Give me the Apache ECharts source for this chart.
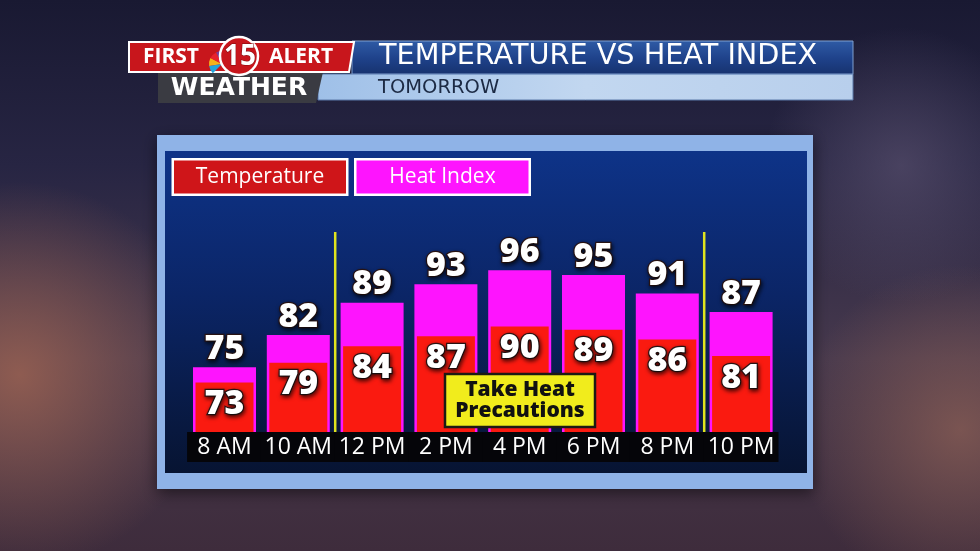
<!DOCTYPE html>
<html>
<head>
<meta charset="utf-8">
<style>
html,body{margin:0;padding:0;background:#1d1c38;}
#chart{width:980px;height:551px;}
</style>
<script src="https://cdn.jsdelivr.net/npm/echarts@6/dist/echarts.min.js"></script>
</head>
<body>
<div id="chart"></div>
<script>
// ---- data ----
const categories = ['8 AM', '10 AM', '12 PM', '2 PM', '4 PM', '6 PM', '8 PM', '10 PM'];
const heatIndex = [75, 82, 89, 93, 96, 95, 91, 87];
const temperature = [73, 79, 84, 87, 90, 89, 86, 81];
const dividerBoundaries = [2, 7];          // yellow dividers sit before these category indexes
const titleText = 'TEMPERATURE VS HEAT INDEX';
const subtitleText = 'TOMORROW';
const noteLines = ['Take Heat', 'Precautions'];

// ---- layout ----
const W = 980, H = 551;
const grid = { left: 187.6, right: 202, top: 201, bottom: 119 };
const bandW = (W - grid.left - grid.right) / categories.length;
const FONT = '"Open Sans", "Noto Sans", sans-serif';
const WIDE = '"DejaVu Sans", "Open Sans", sans-serif';

const chart = echarts.init(document.getElementById('chart'), null, { renderer: 'canvas' });

const labelCommon = {
  show: true,
  color: '#ffffff',
  fontFamily: FONT,
  fontWeight: 800,
  fontSize: 34,
  textBorderColor: '#2b1414',
  textBorderWidth: 2.5,
  textShadowColor: 'rgba(0,0,0,0.65)',
  textShadowBlur: 4,
  textShadowOffsetX: 1,
  textShadowOffsetY: 2
};

const dividerSeries = dividerBoundaries.map((b, i) => ({
  type: 'line',
  name: 'divider' + i,
  xAxisIndex: 2,
  yAxisIndex: 0,
  data: [[b, 61], [b, 104.3]],
  symbol: 'none',
  silent: true,
  z: 5,
  lineStyle: { color: '#dfe41e', width: 2.5 }
}));

const legendBox = {
  width: 172, height: 33, lineHeight: 33, align: 'center', color: '#ffffff',
  fontFamily: FONT, fontSize: 21, borderColor: '#ffffff', borderWidth: 2.5
};

const option = {
  animation: false,
  backgroundColor: {
    type: 'linear', x: 0, y: 0, x2: 0, y2: 1,
    colorStops: [
      { offset: 0, color: '#191932' },
      { offset: 0.3, color: '#272543' },
      { offset: 0.65, color: '#47394d' },
      { offset: 1, color: '#3e2c3c' }
    ]
  },
  title: [
    {
      text: titleText, left: 379, top: 40, padding: 0,
      textStyle: { color: '#ffffff', fontFamily: WIDE, fontWeight: 'normal', fontSize: 28.7, lineHeight: 34 }
    },
    {
      text: subtitleText, left: 378, top: 76, padding: 0,
      textStyle: { color: '#1c2a44', fontFamily: WIDE, fontWeight: 'normal', fontSize: 19.5, lineHeight: 23 }
    }
  ],
  legend: {
    left: 169, top: 158, padding: 0,
    itemWidth: 0, itemHeight: 0, itemGap: 3,
    selectedMode: false,
    formatter: name => (name === 'Temperature' ? '{t|' : '{h|') + name + '}',
    textStyle: {
      rich: {
        t: Object.assign({ backgroundColor: '#cf1519' }, legendBox),
        h: Object.assign({ backgroundColor: '#fe14fe' }, legendBox)
      }
    },
    data: [{ name: 'Temperature', icon: 'rect' }, { name: 'Heat Index', icon: 'rect' }]
  },
  grid: { left: grid.left, right: grid.right, top: grid.top, bottom: grid.bottom, containLabel: false },
  xAxis: [
    {
      type: 'category', data: categories, gridIndex: 0,
      axisLine: { show: false }, axisTick: { show: false }, splitLine: { show: false },
      axisLabel: {
        interval: 0, margin: 0, color: '#ffffff', fontFamily: FONT, fontSize: 23,
        backgroundColor: '#050509', width: bandW + 1, height: 30, lineHeight: 31, align: 'center', padding: 0
      }
    },
    { type: 'category', data: categories, gridIndex: 0, show: false },
    { type: 'value', min: 0, max: categories.length, gridIndex: 0, show: false }
  ],
  yAxis: [
    { type: 'value', min: 61, max: 111, show: false, splitLine: { show: false } },
    { type: 'value', min: 58, max: 128, show: false, splitLine: { show: false } }
  ],
  series: [
    {
      type: 'bar', name: 'Heat Index', xAxisIndex: 0, yAxisIndex: 0,
      data: heatIndex, barWidth: 63, z: 2,
      itemStyle: { color: '#fe14fe' },
      label: Object.assign({}, labelCommon, { position: 'top', distance: 1 })
    },
    {
      type: 'bar', name: 'Temperature', xAxisIndex: 1, yAxisIndex: 1,
      data: temperature, barWidth: 58, z: 3,
      itemStyle: { color: '#fa1a10' },
      label: Object.assign({}, labelCommon, { position: 'insideTop', distance: 5 })
    }
  ].concat(dividerSeries),
  graphic: [
    // background glows
    { type: 'rect', silent: true, z: -20, shape: { x: 0, y: 0, width: W, height: H },
      style: { fill: { type: 'radial', x: 0.02, y: 0.68, r: 0.35,
        colorStops: [{ offset: 0, color: 'rgba(155,98,82,0.85)' }, { offset: 1, color: 'rgba(155,98,82,0)' }] } } },
    { type: 'rect', silent: true, z: -20, shape: { x: 0, y: 0, width: W, height: H },
      style: { fill: { type: 'radial', x: 0.98, y: 0.78, r: 0.3,
        colorStops: [{ offset: 0, color: 'rgba(140,95,85,0.75)' }, { offset: 1, color: 'rgba(140,95,85,0)' }] } } },
    { type: 'rect', silent: true, z: -20, shape: { x: 0, y: 0, width: W, height: H },
      style: { fill: { type: 'radial', x: 0.92, y: 0.3, r: 0.25,
        colorStops: [{ offset: 0, color: 'rgba(95,85,115,0.6)' }, { offset: 1, color: 'rgba(95,85,115,0)' }] } } },
    // chart panel
    { type: 'rect', silent: true, z: -10, shape: { x: 157, y: 135, width: 656, height: 354 },
      style: { fill: '#8fb3e7', shadowBlur: 14, shadowColor: 'rgba(0,0,0,0.5)', shadowOffsetY: 4 } },
    { type: 'rect', silent: true, z: -9, shape: { x: 165, y: 151, width: 642, height: 322 },
      style: { fill: { type: 'linear', x: 0, y: 0, x2: 0, y2: 1,
        colorStops: [{ offset: 0, color: '#0e3388' }, { offset: 0.45, color: '#0b2566' }, { offset: 1, color: '#071432' }] } } },
    // header: title bars
    { type: 'rect', silent: true, z: -5, shape: { x: 318, y: 74, width: 535, height: 26 },
      style: { fill: { type: 'linear', x: 0, y: 0, x2: 1, y2: 0,
        colorStops: [{ offset: 0, color: '#9fc0e8' }, { offset: 0.5, color: '#c2d7f0' }, { offset: 1, color: '#b8cfec' }] },
        stroke: '#5b79a8', lineWidth: 1 } },
    { type: 'rect', silent: true, z: -5, shape: { x: 352, y: 41, width: 501, height: 33 },
      style: { fill: { type: 'linear', x: 0, y: 0, x2: 0, y2: 1,
        colorStops: [{ offset: 0, color: '#2f5ba6' }, { offset: 0.55, color: '#1e4189' }, { offset: 1, color: '#17326e' }] },
        stroke: '#7f9fcf', lineWidth: 1 } },
    // header: WEATHER block
    { type: 'polygon', silent: true, z: -4, shape: { points: [[158, 72], [323, 72], [316, 103], [158, 103]] },
      style: { fill: '#3a3b42' } },
    { type: 'text', silent: true, z: -3, x: 239, y: 88,
      style: { text: 'WEATHER', fill: '#ffffff', font: 'bold 25px ' + WIDE, align: 'center', verticalAlign: 'middle' } },
    // header: FIRST ALERT block
    { type: 'polygon', silent: true, z: -4, shape: { points: [[129, 42], [354, 42], [349, 72], [129, 72]] },
      style: { fill: '#c8161c', stroke: '#ffffff', lineWidth: 2 } },
    { type: 'text', silent: true, z: -3, x: 171, y: 57,
      style: { text: 'FIRST', fill: '#ffffff', font: 'bold 21px ' + FONT, align: 'center', verticalAlign: 'middle' } },
    { type: 'text', silent: true, z: -3, x: 301, y: 57,
      style: { text: 'ALERT', fill: '#ffffff', font: 'bold 21px ' + FONT, align: 'center', verticalAlign: 'middle' } },
    // NBC peacock hint
    { type: 'sector', silent: true, z: -3, shape: { cx: 222, cy: 64, r0: 0, r: 13, startAngle: Math.PI * 0.95, endAngle: Math.PI * 1.15 }, style: { fill: '#f6b21a' } },
    { type: 'sector', silent: true, z: -3, shape: { cx: 222, cy: 64, r0: 0, r: 13, startAngle: Math.PI * 1.15, endAngle: Math.PI * 1.35 }, style: { fill: '#e8232d' } },
    { type: 'sector', silent: true, z: -3, shape: { cx: 222, cy: 64, r0: 0, r: 13, startAngle: Math.PI * 1.35, endAngle: Math.PI * 1.55 }, style: { fill: '#7a3e98' } },
    { type: 'sector', silent: true, z: -3, shape: { cx: 222, cy: 64, r0: 0, r: 13, startAngle: Math.PI * 0.75, endAngle: Math.PI * 0.95 }, style: { fill: '#23a4dc' } },
    { type: 'circle', silent: true, z: -2, shape: { cx: 239, cy: 56, r: 19 },
      style: { fill: '#c8161c', stroke: '#ffffff', lineWidth: 2.5 } },
    { type: 'text', silent: true, z: -1, x: 240, y: 57,
      style: { text: '15', fill: '#ffffff', font: 'bold 28px ' + FONT, align: 'center', verticalAlign: 'middle',
        stroke: '#7a0a0e', lineWidth: 1 } },
    // annotation box (above bars)
    { type: 'rect', z: 100, zlevel: 1, shape: { x: 445, y: 374, width: 150, height: 53 },
      style: { fill: '#f1ec1c', stroke: '#1c1a14', lineWidth: 2.5 } },
    { type: 'text', z: 101, zlevel: 1, x: 520, y: 401,
      style: { text: noteLines.join('\n'), fill: '#111111', font: '800 21px ' + FONT,
        align: 'center', verticalAlign: 'middle', lineHeight: 21 } }
  ]
};

chart.setOption(option);
</script>
</body>
</html>
